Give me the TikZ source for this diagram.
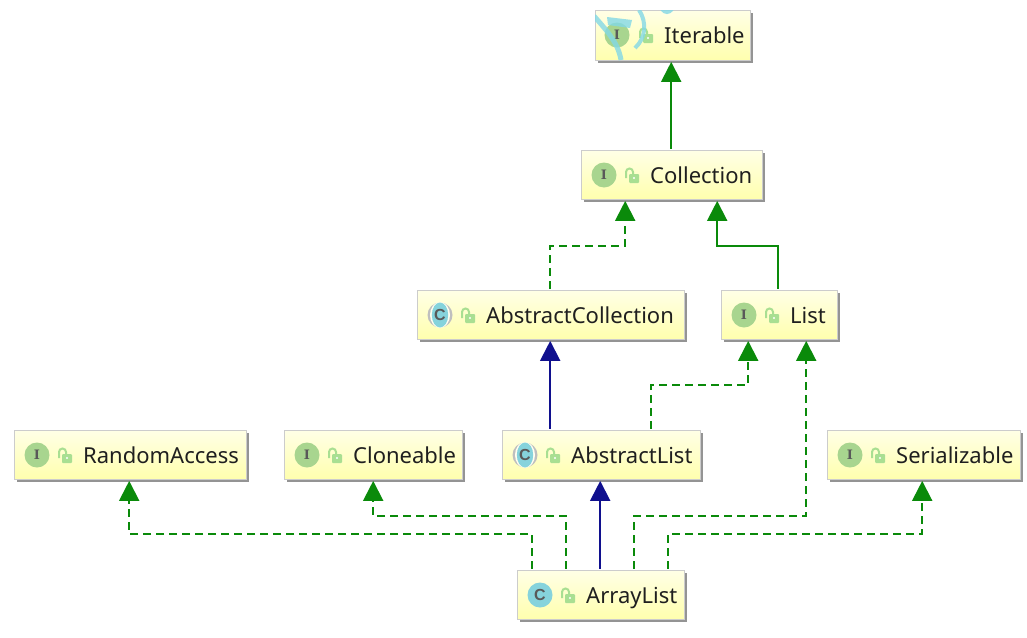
\documentclass[tikz,border=0pt]{standalone}
\usepackage{fontspec}
\setmainfont{Noto Sans}
\newfontfamily\iconfont{DejaVu Serif}[BoldFont={DejaVu Serif Bold}]
\newfontfamily\classfont{Liberation Sans}[BoldFont={Liberation Sans Bold}]
\usetikzlibrary{arrows.meta,calc,shapes.geometric}
\definecolor{gimpl}{HTML}{0A8A0A}
\definecolor{navyx}{HTML}{10108E}
\definecolor{iface}{HTML}{A8D58F}
\definecolor{klass}{HTML}{86D3DC}
\definecolor{lockc}{HTML}{A9DF92}
\definecolor{scrib}{HTML}{82D8E6}
\tikzset{
  boxshadow/.style={fill=black!42,draw=none},
  umlbox/.style={draw=black!20,line width=1.4pt,top color=white!60!yellow!25,bottom color=yellow!32!white,inner sep=0pt,anchor=north west},
  umltext/.style={anchor=base west,inner sep=0pt,text=black!88,font=\fontsize{22}{24}\selectfont},
  iconcirc/.style={circle,inner sep=0pt,minimum size=25pt,text=black!65,font=\iconfont\fontsize{13}{13}\selectfont\bfseries},
  classletter/.style={text=black!65,font=\classfont\fontsize{16}{16}\selectfont\bfseries},
  impl/.style={gimpl,line width=2pt,-{Triangle[length=20pt,width=20pt]},shorten >=0.5pt,shorten <=1.5pt},
  dep/.style={impl,dash pattern=on 8pt off 5pt},
  ext/.style={navyx,line width=2pt,-{Triangle[length=20pt,width=20pt]},shorten >=0.5pt,shorten <=1.5pt},
}
\newcommand{\lockicon}[2]{%
  \fill[lockc,rounded corners=1pt] (#1-3,#2-1) rectangle (#1+7,#2+8);
  \draw[lockc,line width=2pt] (#1-6,#2+3) -- (#1-6,#2-3) arc[start angle=180,end angle=0,x radius=3.5,y radius=-3.5] -- (#1+1,#2-1);
  \fill[white] (#1+2,#2+3) circle (1.2pt);
}
\newcommand{\umlcls}[7]{%
  \fill[boxshadow] (#2+3,#3+3) rectangle (#4+3,#5+3);
  \node[umlbox,minimum width=#4pt-#2pt,minimum height=#5pt-#3pt] (#1) at (#2,#3) {};
  \node[umltext] (#1t) at (#2+69,#3+33) {#7};
  \lockicon{#2+51}{#3+25}
}
\newcommand{\ifaceicon}[3]{\node[iconcirc,fill=iface] (#1i) at (#2+23,#3+25) {I};}
\newcommand{\classicon}[3]{\node[circle,inner sep=0pt,minimum size=25pt,fill=klass,classletter] (#1i) at (#2+23,#3+25) {C};}
\newcommand{\absicon}[3]{%
  \fill[black!25] (#2+23,#3+25) circle (12.5pt);
  \fill[white!70!yellow!20] (#2+23,#3+25) ellipse [x radius=10,y radius=13];
  \node[ellipse,inner sep=0pt,minimum width=16pt,minimum height=25pt,fill=klass,classletter] (#1i) at (#2+23,#3+25) {C};}
\begin{document}
\begin{tikzpicture}[x=1pt,y=-1pt]
\useasboundingbox (0,0) rectangle (1027,637);

\umlcls{iter}{595}{10}{750}{60}{I}{Iterable}
\ifaceicon{iter}{594}{10}
\begin{scope}[opacity=0.8]
  \clip (595,10) rectangle (750,63);
  \draw[scrib,line width=5pt] (594,16) .. controls (606,30) and (618,42) .. (621,60);
  \fill[scrib] (607,17) -- (632,20) -- (630,28) -- (608,25) -- cycle;
  \draw[scrib,line width=4pt] (639,10) .. controls (647,22) and (646,38) .. (635,48);
  \draw[scrib,line width=4pt] (662,9) .. controls (665,13) and (669,13) .. (672,9);
\end{scope}
\umlcls{coll}{581}{150}{762}{199}{I}{Collection}
\ifaceicon{coll}{581}{150}
\umlcls{acoll}{417}{290}{684}{339}{C}{AbstractCollection}
\absicon{acoll}{417}{290}
\umlcls{list}{721}{290}{837}{339}{I}{List}
\ifaceicon{list}{721}{290}
\umlcls{rand}{14}{430}{246}{479}{I}{RandomAccess}
\ifaceicon{rand}{14}{430}
\umlcls{clon}{284}{430}{462}{479}{I}{Cloneable}
\ifaceicon{clon}{284}{430}
\umlcls{alist}{502}{430}{700}{479}{C}{AbstractList}
\absicon{alist}{502}{430}
\umlcls{seri}{827}{430}{1020}{479}{I}{Serializable}
\ifaceicon{seri}{827}{430}
\umlcls{arr}{517}{570}{684}{619}{C}{ArrayList}
\classicon{arr}{517}{570}

\draw[impl] ([xshift=-1pt]coll.north) -- ([xshift=-2pt]iter.south);
\draw[dep] ([xshift=-1pt]acoll.north) -- ++(0,-44.3) -| ([xshift=-47pt]coll.south);
\draw[impl] ([xshift=-1.5pt]list.north) -- ++(0,-44.3) -| ([xshift=45pt]coll.south);
\draw[ext] ([xshift=-51.5pt]alist.north) -- ([xshift=-1pt]acoll.south);
\draw[dep] ([xshift=49.5pt]alist.north) -- ++(0,-45.3) -| ([xshift=-31.5pt]list.south);
\draw[ext] ([xshift=-1pt]arr.north) -- ([xshift=-1.5pt]alist.south);
\draw[dep] ([xshift=-69pt]arr.north) -- ++(0,-36.3) -| ([xshift=-1.5pt]rand.south);
\draw[dep] ([xshift=-35pt]arr.north) -- ++(0,-54.3) -| ([xshift=-0.5pt]clon.south);
\draw[dep] ([xshift=33pt]arr.north) -- ++(0,-54.3) -| ([xshift=26.5pt]list.south);
\draw[dep] ([xshift=67pt]arr.north) -- ++(0,-36.3) -| ([xshift=-2pt]seri.south);
\end{tikzpicture}
\end{document}
